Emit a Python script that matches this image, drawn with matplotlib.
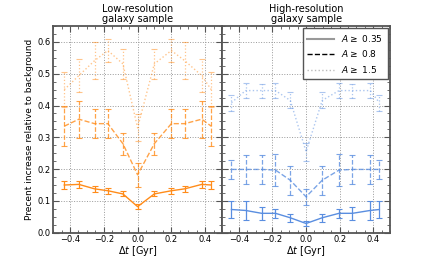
import numpy as np
import matplotlib
matplotlib.use('Agg')
import matplotlib.pyplot as plt
from matplotlib.ticker import MultipleLocator
from matplotlib.lines import Line2D

# bin centres of the time offsets [Gyr]
dt_low = [-0.434, -0.348, -0.255, -0.176, -0.087, 0.0, 0.099, 0.2, 0.279, 0.38, 0.436]
dt_high = [-0.444, -0.36, -0.264, -0.182, -0.094, 0.0, 0.096, 0.196, 0.276, 0.382, 0.436]

# low-resolution sample
low_a035 = [0.150, 0.152, 0.138, 0.132, 0.122, 0.082, 0.122, 0.132, 0.138, 0.152, 0.150]
low_a035_err = [0.012, 0.012, 0.010, 0.010, 0.008, 0.007, 0.008, 0.010, 0.010, 0.012, 0.012]
low_a08 = [0.335, 0.357, 0.343, 0.343, 0.280, 0.182, 0.280, 0.343, 0.343, 0.357, 0.335]
low_a08_err = [0.062, 0.058, 0.045, 0.045, 0.035, 0.037, 0.035, 0.045, 0.045, 0.058, 0.062]
low_a15 = [0.450, 0.494, 0.541, 0.573, 0.531, 0.330, 0.531, 0.573, 0.541, 0.494, 0.450]
low_a15_err = [0.055, 0.053, 0.058, 0.036, 0.047, 0.042, 0.047, 0.036, 0.058, 0.053, 0.055]

# high-resolution sample
high_a035 = [0.073, 0.070, 0.061, 0.061, 0.047, 0.029, 0.047, 0.061, 0.061, 0.070, 0.073]
high_a035_err = [0.028, 0.030, 0.020, 0.015, 0.012, 0.008, 0.012, 0.015, 0.020, 0.030, 0.028]
high_a08 = [0.199, 0.199, 0.199, 0.197, 0.165, 0.113, 0.165, 0.197, 0.199, 0.199, 0.199]
high_a08_err = [0.030, 0.045, 0.045, 0.050, 0.045, 0.025, 0.045, 0.050, 0.045, 0.045, 0.030]
high_a15 = [0.409, 0.447, 0.447, 0.447, 0.416, 0.255, 0.416, 0.447, 0.447, 0.447, 0.409]
high_a15_err = [0.025, 0.023, 0.022, 0.023, 0.025, 0.028, 0.025, 0.023, 0.022, 0.023, 0.025]

labels = [r'$A \geq$ 0.35', r'$A \geq$ 0.8', r'$A \geq$ 1.5']

orange = '#ff8c1a'
blue = '#5a8ee0'

plt.rcParams['font.size'] = 6
plt.rcParams['mathtext.fontset'] = 'dejavusans'

fig = plt.figure(figsize=(4.32, 2.59), dpi=100)
ax1 = fig.add_axes([0.123, 0.1015, 0.391, 0.798])
ax2 = fig.add_axes([0.514, 0.1015, 0.389, 0.798])


def draw(ax, x, sets, color):
    for (y, err), ls, alpha in zip(sets, ['-', '--', ':'], [1.0, 0.8, 0.5]):
        _, caps, bars = ax.errorbar(x, y, yerr=err, color=color, ls=ls, lw=1,
                                    alpha=alpha, capsize=2.2, capthick=0.8,
                                    elinewidth=0.9)
        for b in bars:
            b.set_linestyle(ls)


draw(ax1, dt_low, [(low_a035, low_a035_err), (low_a08, low_a08_err),
                   (low_a15, low_a15_err)], orange)
draw(ax2, dt_high, [(high_a035, high_a035_err), (high_a08, high_a08_err),
                    (high_a15, high_a15_err)], blue)

for ax in (ax1, ax2):
    ax.set_xlim(-0.5, 0.5)
    ax.set_ylim(0, 0.65)
    ax.xaxis.set_major_locator(MultipleLocator(0.2))
    ax.xaxis.set_minor_locator(MultipleLocator(0.05))
    ax.yaxis.set_major_locator(MultipleLocator(0.1))
    ax.yaxis.set_minor_locator(MultipleLocator(0.025))
    ax.tick_params(which='both', direction='in', top=True, right=True,
                   color='#555555', labelsize=6, pad=2)
    ax.tick_params(which='major', length=4, width=0.8)
    ax.tick_params(which='minor', length=2, width=0.6)
    ax.grid(True, which='major', ls=':', color='#999999', lw=0.7)
    for s in ax.spines.values():
        s.set_color('#555555')
        s.set_linewidth(1.3)
    ax.set_xlabel(r'$\Delta t$ [Gyr]', fontsize=7, labelpad=0)

ax2.set_yticklabels([])
ax1.set_ylabel('Precent increase relative to background', fontsize=6.5, labelpad=2)
ax1.set_title('Low-resolution\ngalaxy sample', fontsize=7, pad=3, linespacing=1.0)
ax2.set_title('High-resolution\ngalaxy sample', fontsize=7, pad=3, linespacing=1.0)

handles = [Line2D([], [], color='#999999', ls='-', lw=1.5),
           Line2D([], [], color='black', ls='--', lw=1),
           Line2D([], [], color='#bbbbbb', ls=':', lw=1)]
leg = ax2.legend(handles, labels, loc='upper right', fontsize=6.5,
                 fancybox=False, framealpha=1, edgecolor='#555555',
                 handlelength=3, borderpad=0.5, labelspacing=0.5,
                 borderaxespad=0.25)
leg.get_frame().set_linewidth(1.0)

fig.savefig('out.png', dpi=100)
